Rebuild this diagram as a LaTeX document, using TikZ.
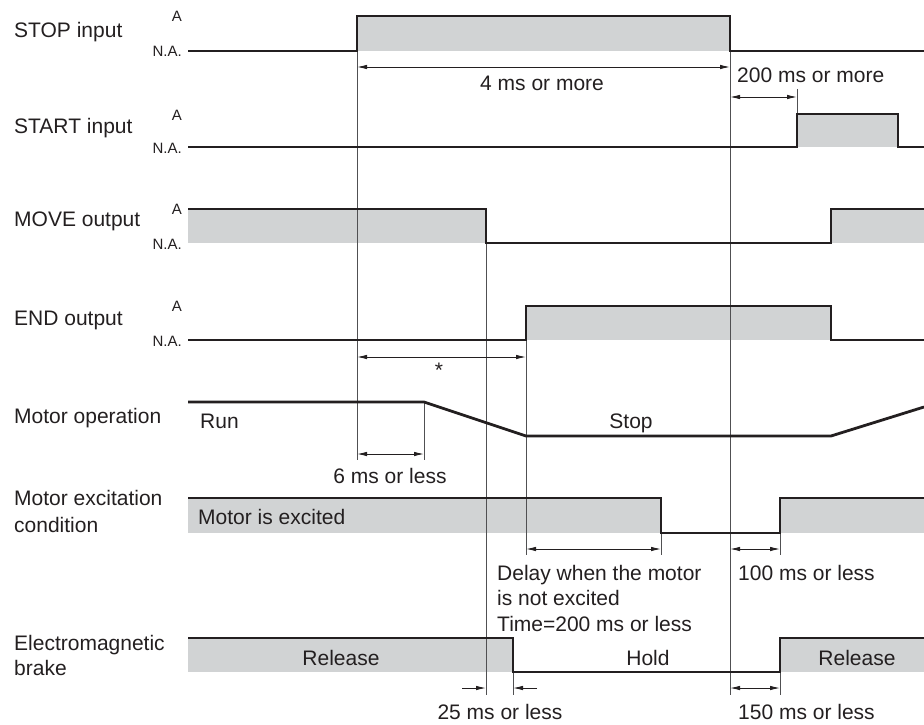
\documentclass[tikz,border=0pt]{standalone}
\usepackage{fontspec}
\setmainfont{Liberation Sans}
\usetikzlibrary{arrows.meta}
\definecolor{ink}{HTML}{231F20}
\definecolor{active}{HTML}{D1D3D4}
\definecolor{guide}{HTML}{505052}
\tikzset{
  signal/.style={draw=ink, line width=2.8pt, line join=miter},
  zone/.style={fill=active, draw=none},
  guideline/.style={draw=guide, line width=0.9pt},
  dim/.style={draw=ink, line width=0.9pt, {Latex[length=10pt,width=4.5pt]}-{Latex[length=10pt,width=4.5pt]}},
  dimin/.style={draw=ink, line width=0.9pt, -{Latex[length=10pt,width=4.5pt]}},
  lbl/.style={text=ink, inner sep=0pt, font=\fontsize{21}{25.5}\selectfont},
  lvl/.style={text=ink, inner sep=0pt, anchor=base east, font=\fontsize{15}{18}\selectfont},
}
\begin{document}
\begin{tikzpicture}[x=1pt, y=-1pt]
\useasboundingbox (0,0) rectangle (924,725);

% shaded active zones
\path[zone] (357,16) rectangle (730,51);
\path[zone] (797,114) rectangle (898,147);
\path[zone] (188,209) rectangle (486,243);
\path[zone] (831,209) rectangle (924,243);
\path[zone] (526,306) rectangle (831,340);
\path[zone] (188,498) rectangle (661,533);
\path[zone] (780,498) rectangle (924,533);
\path[zone] (188,638) rectangle (513,672);
\path[zone] (780,638) rectangle (924,672);

% timing guide lines
\draw[guideline] (357,51) -- (357,460);
\draw[guideline] (424,402) -- (424,460);
\draw[guideline] (730,51) -- (730,695);
\draw[guideline] (797,89) -- (797,114);
\draw[guideline] (486,243) -- (486,695);
\draw[guideline] (526,340) -- (526,555);
\draw[guideline] (661,533) -- (661,555);
\draw[guideline] (780,533) -- (780,555);
\draw[guideline] (780,672) -- (780,695);
\draw[guideline] (513,672) -- (513,695);

% signal waveforms
\draw[signal] (188,51) -- (357,51) -- (357,16) -- (730,16) -- (730,51) -- (924,51);
\draw[signal] (188,147) -- (797,147) -- (797,114) -- (898,114) -- (898,147) -- (924,147);
\draw[signal] (188,209) -- (486,209) -- (486,243) -- (831,243) -- (831,209) -- (924,209);
\draw[signal] (188,340) -- (526,340) -- (526,306) -- (831,306) -- (831,340) -- (924,340);
\draw[signal] (188,402) -- (424,402) -- (526,436) -- (831,436) -- (924,407);
\draw[signal] (188,498) -- (661,498) -- (661,533) -- (780,533) -- (780,498) -- (924,498);
\draw[signal] (188,638) -- (513,638) -- (513,672) -- (780,672) -- (780,638) -- (924,638);

% dimension arrows
\draw[dim] (357,67) -- (730,67);
\draw[dim] (730,97) -- (797,97);
\draw[dim] (357,357) -- (526,357);
\draw[dim] (357,454) -- (424,454);
\draw[dim] (526,549) -- (661,549);
\draw[dim] (730,549) -- (780,549);
\draw[dimin] (462,688) -- (486,688);
\draw[dimin] (537,688) -- (513,688);
\draw[dim] (730,688) -- (780,688);

% signal names
\node[lbl, anchor=base west] (nstop) at (14,38) {STOP input};
\node[lbl, anchor=base west] (nstart) at (14,133) {START input};
\node[lbl, anchor=base west] (nmove) at (14,226) {MOVE output};
\node[lbl, anchor=base west] (nend) at (14,325) {END output};
\node[lbl, anchor=base west] (nmotor) at (14,423) {Motor operation};
\node[lbl, anchor=base west] (nexc1) at (14,505) {Motor excitation};
\node[lbl, anchor=base west] (nexc2) at (14,532) {condition};
\node[lbl, anchor=base west] (nbrk1) at (14,650) {Electromagnetic};
\node[lbl, anchor=base west] (nbrk2) at (14,675) {brake};

% level marks
\node[lvl] (stopA) at (182,22) {A};
\node[lvl] (stopN) at (182,57) {N.A.};
\node[lvl] (startA) at (182,120) {A};
\node[lvl] (startN) at (182,153) {N.A.};
\node[lvl] (moveA) at (182,214) {A};
\node[lvl] (moveN) at (182,249) {N.A.};
\node[lvl] (endA) at (182,311) {A};
\node[lvl] (endN) at (182,346) {N.A.};

% state texts
\node[lbl, anchor=base west] (run) at (200,428) {Run};
\node[lbl, anchor=base] (stop) at (631,428) {Stop};
\node[lbl, anchor=base west] (excited) at (198,524) {Motor is excited};
\node[lbl, anchor=base] (rel1) at (341,665) {Release};
\node[lbl, anchor=base] (hold) at (648,665) {Hold};
\node[lbl, anchor=base] (rel2) at (857,665) {Release};

% timing texts
\node[lbl, anchor=base west] (t4) at (480,90) {4 ms or more};
\node[lbl, anchor=base west] (t200) at (737,83) {200 ms or more};
\node[lbl, anchor=base] (tstar) at (439,377) {*};
\node[lbl, anchor=base] (t6) at (390,483) {6 ms or less};
\node[lbl, anchor=base west] (tdly1) at (497,580) {Delay when the motor};
\node[lbl, anchor=base west] (tdly2) at (497,605) {is not excited};
\node[lbl, anchor=base west] (tdly3) at (497,631) {Time=200 ms or less};
\node[lbl, anchor=base west] (t100) at (738,580) {100 ms or less};
\node[lbl, anchor=base] (t25) at (500,719) {25 ms or less};
\node[lbl, anchor=base west] (t150) at (738,719) {150 ms or less};
\end{tikzpicture}
\end{document}
